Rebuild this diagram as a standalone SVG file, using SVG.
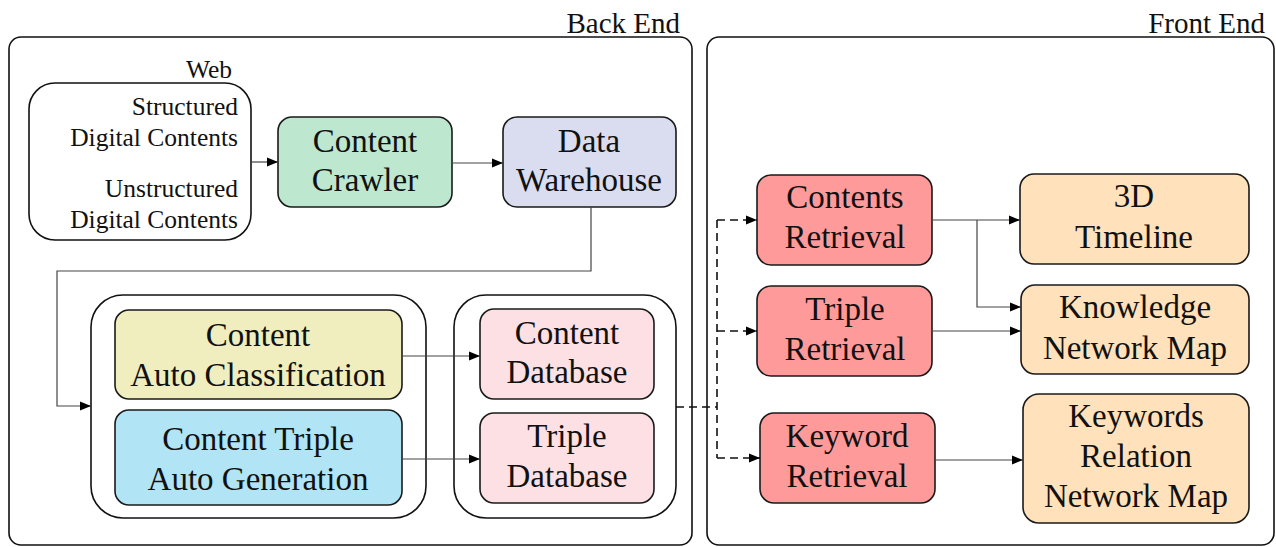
<svg xmlns="http://www.w3.org/2000/svg" width="1276" height="547" viewBox="0 0 1276 547">
<defs>
<style>
.n{font-size:33px;text-anchor:middle}
.w{font-size:25.5px;text-anchor:end}
.t{font-size:29px;text-anchor:end}
.box{stroke:#1a1a1a;stroke-width:1.6}
.grp{fill:#fff;stroke:#111;stroke-width:1.6}
.c{fill:none;stroke:#444;stroke-width:1.2}
.d{fill:none;stroke:#111;stroke-width:1.6;stroke-dasharray:8 5}
</style>
<marker id="a" markerUnits="userSpaceOnUse" markerWidth="12" markerHeight="10" refX="11" refY="5" orient="auto">
<path d="M0,0.5 L11,5 L0,9.5 z" fill="#000"/>
</marker>
</defs>
<rect width="1276" height="547" fill="#fff"/>
<g font-family="'Liberation Serif', 'Times New Roman', serif" fill="#111">

<g id="backend">
<rect class="grp" x="9" y="37" width="683" height="508" rx="12"/>
<text class="t" x="680" y="33">Back End</text>
</g>
<g id="frontend">
<rect class="grp" x="707" y="37" width="567" height="508" rx="12"/>
<text class="t" x="1265" y="33">Front End</text>
</g>

<g id="web">
<rect class="grp" x="29" y="83" width="222" height="157" rx="26"/>
<text class="w" x="232" y="78">Web</text>
<text class="w" x="238" y="115">Structured</text>
<text class="w" x="238" y="146">Digital Contents</text>
<text class="w" x="238" y="197">Unstructured</text>
<text class="w" x="238" y="228">Digital Contents</text>
</g>

<g id="crawler">
<rect class="box" x="278" y="117" width="174" height="90" rx="14" fill="#bde7cf"/>
<text class="n" x="365" y="152">Content</text>
<text class="n" x="365" y="191">Crawler</text>
</g>
<g id="warehouse">
<rect class="box" x="503" y="117" width="173" height="90" rx="14" fill="#dadcef"/>
<text class="n" x="589" y="152">Data</text>
<text class="n" x="589" y="191">Warehouse</text>
</g>

<g id="procgroup">
<rect class="grp" x="91" y="295" width="335" height="223" rx="32"/>
</g>
<g id="classification">
<rect class="box" x="115" y="310" width="287" height="89" rx="14" fill="#f0eebf"/>
<text class="n" x="258" y="346">Content</text>
<text class="n" x="258" y="386">Auto Classification</text>
</g>
<g id="triplegen">
<rect class="box" x="115" y="410" width="287" height="95" rx="14" fill="#b1e5f5"/>
<text class="n" x="258" y="450">Content Triple</text>
<text class="n" x="258" y="490">Auto Generation</text>
</g>

<g id="dbgroup">
<rect class="grp" x="454" y="295" width="222" height="223" rx="32"/>
</g>
<g id="contentdb">
<rect class="box" x="480" y="309" width="174" height="90" rx="14" fill="#fde0e3"/>
<text class="n" x="567" y="344">Content</text>
<text class="n" x="567" y="383">Database</text>
</g>
<g id="tripledb">
<rect class="box" x="480" y="413" width="174" height="90" rx="14" fill="#fde0e3"/>
<text class="n" x="567" y="447">Triple</text>
<text class="n" x="567" y="487">Database</text>
</g>

<g id="contentsretrieval">
<rect class="box" x="757" y="175" width="175" height="90" rx="14" fill="#ff9a9a"/>
<text class="n" x="845" y="208">Contents</text>
<text class="n" x="845" y="248">Retrieval</text>
</g>
<g id="tripleretrieval">
<rect class="box" x="757" y="286" width="175" height="90" rx="14" fill="#ff9a9a"/>
<text class="n" x="845" y="320">Triple</text>
<text class="n" x="845" y="360">Retrieval</text>
</g>
<g id="keywordretrieval">
<rect class="box" x="760" y="413" width="175" height="90" rx="14" fill="#ff9a9a"/>
<text class="n" x="847" y="447">Keyword</text>
<text class="n" x="847" y="487">Retrieval</text>
</g>

<g id="timeline">
<rect class="box" x="1020" y="174" width="229" height="90" rx="14" fill="#ffe1bb"/>
<text class="n" x="1134" y="207">3D</text>
<text class="n" x="1134" y="248">Timeline</text>
</g>
<g id="knowledgemap">
<rect class="box" x="1021" y="285" width="228" height="89" rx="14" fill="#ffe1bb"/>
<text class="n" x="1135" y="318">Knowledge</text>
<text class="n" x="1135" y="359">Network Map</text>
</g>
<g id="keywordsmap">
<rect class="box" x="1023" y="394" width="226" height="129" rx="16" fill="#ffe1bb"/>
<text class="n" x="1136" y="427">Keywords</text>
<text class="n" x="1136" y="467">Relation</text>
<text class="n" x="1136" y="507">Network Map</text>
</g>
</g>

<g id="connectors">
<path class="c" d="M251,162 H278" marker-end="url(#a)"/>
<path class="c" d="M452,163 H503" marker-end="url(#a)"/>
<path class="c" d="M591,207 V271 H57 V406 H91" marker-end="url(#a)"/>
<path class="c" d="M402,356 H480" marker-end="url(#a)"/>
<path class="c" d="M402,459 H480" marker-end="url(#a)"/>
<path class="d" d="M676,407 H717"/>
<path class="d" d="M717,220 V458"/>
<path class="d" d="M717,220 H757" marker-end="url(#a)"/>
<path class="d" d="M717,331 H757" marker-end="url(#a)"/>
<path class="d" d="M717,458 H760" marker-end="url(#a)"/>
<path class="c" d="M932,220 H1020" marker-end="url(#a)"/>
<path class="c" d="M977,220 V307 H1021" marker-end="url(#a)"/>
<path class="c" d="M932,331 H1021" marker-end="url(#a)"/>
<path class="c" d="M935,460 H1023" marker-end="url(#a)"/>
</g>
</svg>
